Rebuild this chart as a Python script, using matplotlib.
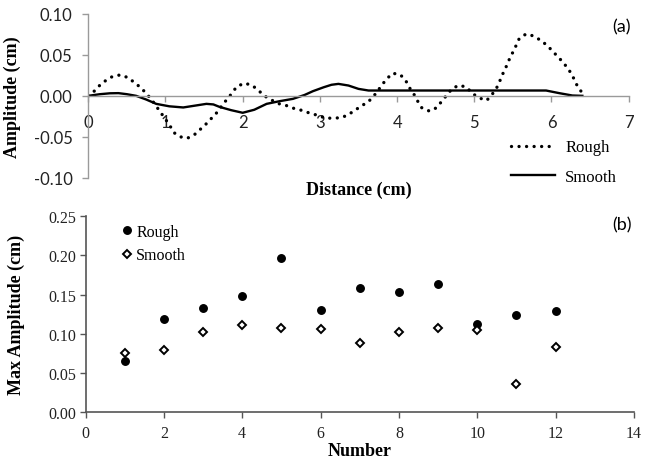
import matplotlib
matplotlib.use("Agg")
import matplotlib.pyplot as plt

# (a) amplitude profiles
rough_x = [0.00, 0.08, 0.15, 0.23, 0.32, 0.42, 0.52, 0.60, 0.68, 0.76, 0.83, 0.89,
           0.95, 1.01, 1.06, 1.11, 1.19, 1.28, 1.38, 1.45, 1.53, 1.60, 1.67, 1.73,
           1.79, 1.86, 1.92, 2.02, 2.12, 2.20, 2.28, 2.37, 2.48, 2.57, 2.65, 2.74,
           2.83, 2.91, 3.00, 3.09, 3.17, 3.26, 3.35, 3.45, 3.54, 3.62, 3.68, 3.74,
           3.80, 3.87, 3.94, 4.04, 4.11, 4.16, 4.22, 4.27, 4.32, 4.42, 4.51, 4.58,
           4.65, 4.71, 4.80, 4.90, 4.97, 5.06, 5.16, 5.23, 5.29, 5.33, 5.37, 5.42,
           5.46, 5.52, 5.58, 5.67, 5.75, 5.86, 5.95, 6.03, 6.12, 6.21, 6.27, 6.32,
           6.39, 6.42]
rough_y = [0.000, 0.006, 0.013, 0.019, 0.024, 0.0256, 0.022, 0.016, 0.010, 0.002, -0.006, -0.014,
           -0.022, -0.030, -0.037, -0.045, -0.050, -0.052, -0.047, -0.041, -0.034, -0.027, -0.020, -0.012,
           -0.005, 0.003, 0.011, 0.0155, 0.013, 0.007, 0.000, -0.005, -0.010, -0.012, -0.015, -0.017,
           -0.020, -0.022, -0.025, -0.0275, -0.027, -0.027, -0.024, -0.018, -0.012, -0.008, -0.002, 0.0045,
           0.013, 0.021, 0.0276, 0.026, 0.019, 0.010, 0.0016, -0.007, -0.0146, -0.0187, -0.0146, -0.0065,
           0.0016, 0.0085, 0.013, 0.0106, 0.0033, -0.0024, -0.0057, 0.0016, 0.0098, 0.018, 0.027, 0.037,
           0.046, 0.057, 0.0695, 0.0756, 0.0736, 0.068, 0.061, 0.053, 0.044, 0.034, 0.025, 0.0146,
           0.0045, 0.000]

smooth_x = [0.00, 0.15, 0.28, 0.39, 0.50, 0.62, 0.75, 0.88, 1.05, 1.23, 1.38, 1.53,
            1.62, 1.70, 1.85, 2.00, 2.15, 2.31, 2.48, 2.65, 2.80, 2.91, 3.05, 3.15,
            3.24, 3.37, 3.50, 3.63, 5.93, 6.10, 6.27, 6.40]
smooth_y = [0.000, 0.002, 0.0031, 0.0033, 0.002, 0.000, -0.0045, -0.0098, -0.0128, -0.0142, -0.012, -0.0098,
            -0.0105, -0.0135, -0.0175, -0.0207, -0.017, -0.0098, -0.0065, -0.0037, 0.001, 0.0057, 0.0105, 0.0135,
            0.0146, 0.0126, 0.0085, 0.0065, 0.0065, 0.0033, 0.0004, 0.000]

# (b) max amplitude per sample
number = [1, 2, 3, 4, 5, 6, 7, 8, 9, 10, 11, 12]
max_rough = [0.065, 0.119, 0.133, 0.1485, 0.197, 0.1306, 0.1587, 0.153, 0.163, 0.1125, 0.124, 0.1287]
max_smooth = [0.075, 0.080, 0.1025, 0.1115, 0.108, 0.106, 0.0885, 0.103, 0.107, 0.105, 0.0355, 0.0836]

serif = "Liberation Serif"
sans = "Lato"

fig = plt.figure(figsize=(6.45, 4.64), dpi=100)

# ---- panel (a)
ax1 = fig.add_axes([0.1369, 0.6149, 0.8378, 0.3528])
ax1.plot(rough_x, rough_y, color="black", lw=2.4, linestyle=(0, (0.01, 2.25)),
         dash_capstyle="round", label="Rough")
ax1.plot(smooth_x, smooth_y, color="black", lw=1.7, label="Smooth")
ax1.set_xlim(0, 7)
ax1.set_ylim(-0.10, 0.10)
ax1.set_yticks([-0.10, -0.05, 0.00, 0.05, 0.10])
ax1.set_yticklabels(["-0.10", "-0.05", "0.00", "0.05", "0.10"])
ax1.set_xticks(range(8))
for s in ["top", "right"]:
    ax1.spines[s].set_visible(False)
ax1.spines["bottom"].set_position(("data", 0))
for s in ["left", "bottom"]:
    ax1.spines[s].set_color("#9a9a9a")
    ax1.spines[s].set_linewidth(1.0)
ax1.tick_params(axis="both", direction="out", length=4.3, width=1.0, color="#9a9a9a",
                labelsize=12, pad=7)
ax1.tick_params(axis="x", pad=9)
for lab in ax1.get_xticklabels() + ax1.get_yticklabels():
    lab.set_fontfamily(sans)
    lab.set_color("#222222")
ax1.set_ylabel("Amplitude (cm)", fontfamily=serif, fontweight="bold", fontsize=13)
ax1.yaxis.set_label_coords(-0.125, 0.5)
ax1.set_xlabel("Distance (cm)", fontfamily=serif, fontweight="bold", fontsize=13)
ax1.xaxis.set_label_coords(0.5, -0.02)
ax1.text(0.987, 0.925, "(a)", transform=ax1.transAxes, fontfamily=sans, fontsize=13,
         ha="center", va="center")
fig.legend(*ax1.get_legend_handles_labels(), loc="center left",
           bbox_to_anchor=(511 / 645, 1 - 163 / 464), frameon=False,
           prop={"family": serif, "size": 12}, borderpad=0, borderaxespad=0,
           handlelength=2.65, handletextpad=0.6, labelspacing=0.8)

# ---- panel (b)
ax2 = fig.add_axes([0.1326, 0.1093, 0.8504, 0.4224])
ax2.plot(number, max_rough, linestyle="none", marker="o", markersize=5.4,
         color="black", label="Rough")
ax2.plot(number, max_smooth, linestyle="none", marker="D", markersize=4.2,
         markerfacecolor="white", markeredgecolor="black", markeredgewidth=1.4,
         label="Smooth")
ax2.set_xlim(0, 14)
ax2.set_ylim(0, 0.25)
ax2.set_xticks(range(0, 15, 2))
ax2.set_yticks([0.00, 0.05, 0.10, 0.15, 0.20, 0.25])
ax2.set_yticklabels(["0.00", "0.05", "0.10", "0.15", "0.20", "0.25"])
for s in ["top", "right"]:
    ax2.spines[s].set_visible(False)
for s in ["left", "bottom"]:
    ax2.spines[s].set_color("#555555")
    ax2.spines[s].set_linewidth(1.2)
ax2.tick_params(axis="both", direction="out", length=4, width=1.0, color="#555555",
                labelsize=11.5)
ax2.tick_params(axis="x", pad=5)
ax2.tick_params(axis="y", pad=3)
for lab in ax2.get_xticklabels() + ax2.get_yticklabels():
    lab.set_fontfamily(serif)
    lab.set_color("#222222")
ax2.set_ylabel("Max Amplitude (cm)", fontfamily=serif, fontweight="bold", fontsize=13)
ax2.yaxis.set_label_coords(-0.11, 0.5)
ax2.set_xlabel("Number", fontfamily=serif, fontweight="bold", fontsize=13, labelpad=1)
ax2.text(0.995, 0.96, "(b)", transform=ax2.transAxes, fontfamily=sans, fontsize=13,
         ha="right", va="center")
ax2.legend(loc="upper left", bbox_to_anchor=(121 / 645, 1 - 225 / 464),
           bbox_transform=fig.transFigure, frameon=False,
           prop={"family": serif, "size": 11.5}, borderpad=0, borderaxespad=0,
           handlelength=0.8, handletextpad=0.15, labelspacing=0.45)

fig.savefig("out.png", dpi=100)
